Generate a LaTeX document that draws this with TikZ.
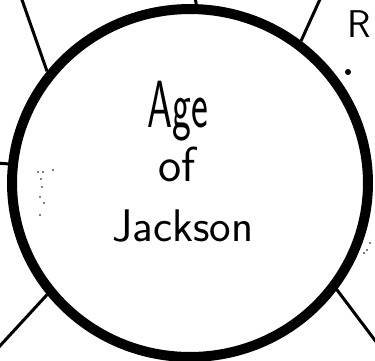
\documentclass[tikz,border=0pt]{standalone}
\usetikzlibrary{shapes.geometric}

\begin{document}
\begin{tikzpicture}[x=0.02cm, y=-0.02cm,
    hub/.style={draw, ellipse, line width=0.2cm, minimum width=7.12cm, minimum height=6.96cm, inner sep=0pt},
    spoke/.style={line width=0.06cm},
    word/.style={anchor=base, inner sep=0pt, font=\sffamily}]
    \useasboundingbox (0,0) rectangle (375,360);

    \node[hub] at (190,183) (age) {};
    \node[word] at (178,127) (t1) {\fontsize{38}{38}\selectfont\scalebox{0.6}[1]{Age}};
    \node[word] at (177,181) (t2) {\fontsize{28}{28}\selectfont of};
    \node[word] at (183,241) (t3) {\fontsize{26}{26}\selectfont Jackson};
    \node[word, anchor=base west] at (347,37) (r) {\fontsize{22}{22}\selectfont R};

    \coordinate (n0) at (195,-3);
    \coordinate (n1) at (21,-3);
    \coordinate (n2) at (321,-3);
    \coordinate (n3) at (-3,163);
    \coordinate (n4) at (-2,348);
    \coordinate (n5) at (377,343);

    \draw[spoke] (age.88) -- (n0);
    \draw[spoke] (age.142) -- (n1);
    \draw[spoke] (age.52) -- (n2);
    \draw[spoke] (age.174) -- (n3);
    \draw[spoke] (age.218) -- (n4);
    \draw[spoke] (age.324) -- (n5);

    % specks
    \fill (348,72) circle (3);
    \foreach \x/\y in {38/172, 43/172, 53/170, 41/179, 42/187, 40/197, 44/203, 40/215, 367/250, 370/243, 364/253}
        \fill (\x,\y) circle (0.9);
\end{tikzpicture}
\end{document}
